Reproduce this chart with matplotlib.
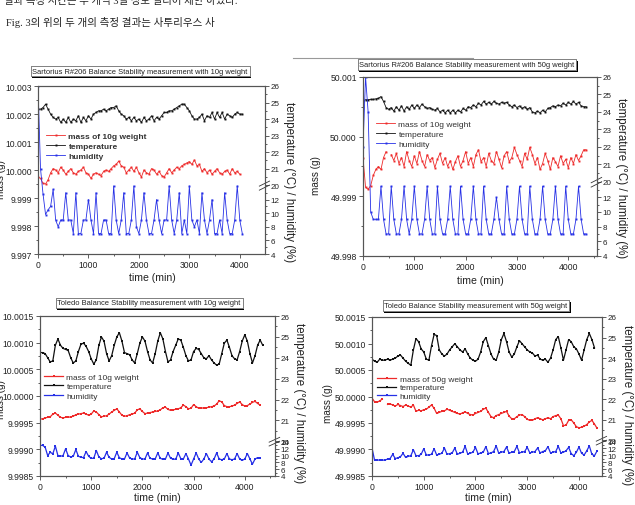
import numpy as np
import matplotlib
matplotlib.use('Agg')
import matplotlib.pyplot as plt
import matplotlib.patheffects as pe
from matplotlib.lines import Line2D

plt.rcParams['font.family'] = ['Liberation Sans', 'DejaVu Sans']

# sampling step of the read-off values (min)
STEP = 50
nan = np.nan

# Sartorius, 10 g
tl_mass = [9.99975, 9.99970, 9.99952, 9.99950, 9.99965, 9.99990, 10.00005, 10.00000, 9.99990, 10.00010,
           10.00000, 9.99985, 9.99995, 10.00005, 9.99990, 9.99985, 9.99995, 10.00000, 10.00010, 9.99990,
           9.99985, 9.99970, 9.99985, 9.99990, 9.99985, 9.99980, 9.99995, 10.00000, 9.99995, 10.00005,
           10.00015, 10.00020, 10.00032, 10.00015, 10.00010, 9.99990, 10.00000, 10.00010, 9.99995, 10.00010,
           9.99990, 9.99975, 10.00000, 9.99990, 9.99985, 10.00005, 10.00000, 9.99985, 9.99995, 9.99980,
           9.99975, 9.99990, 10.00005, 9.99990, 10.00000, 10.00010, 10.00005, 10.00015, 10.00020, 10.00025,
           10.00030, 10.00020, 10.00036, 10.00015, 10.00020, 9.99995, 10.00005, 9.99990, 10.00000, 9.99985,
           9.99995, 10.00005, 9.99990, 9.99985, 9.99995, 10.00000, 9.99985, 10.00005, 9.99990, 9.99995,
           9.99985]
tl_temp = [24.6, 24.6, 24.7, 24.9, 24.6, 24.3, 24.1, 24.0, 24.1, 23.8,
           24.0, 23.8, 24.1, 23.8, 24.0, 23.9, 24.2, 23.8, 24.1, 23.9,
           24.2, 24.0, 24.3, 24.4, 24.5, 24.5, 24.6, 24.5, 24.6, 24.7,
           24.7, 24.8, 24.5, 24.3, 24.2, 24.0, 24.1, 23.9, 24.1, 23.9,
           24.0, 23.8, 24.1, 23.9, 24.0, 24.2, 23.9, 24.1, 24.0, 24.2,
           24.4, 24.4, 24.5, 24.5, 24.6, 24.7, 24.8, 24.9, 24.9, 24.7,
           24.5, 24.2, 24.0, 24.0, 24.1, 24.3, 23.9, 24.2, 24.1, 24.4,
           24.0, 24.4, 24.1, 24.4, 24.0, 24.3, 24.2, 24.1, 24.3, 24.4,
           24.3, 24.3]
tl_hum = [30, 21, 12.8, 9.8, 10.5, 11, 13.5, 9, 8, 9,
          9, 13, 9, 9, 7, 13, 7, 7, 9, 9,
          12, 9, 7, 13, 7, 7, 9, 9, 7, 7,
          14, 9, 7, 9, 13, 7, 7, 9, 14, 8,
          7, 9, 13, 9, 7, 7, 9, 12, 9, 7,
          9, 9, 14, 9, 7, 9, 13, 7, 9, 7,
          14, 9, 8, 9, 7, 13, 9, 7, 9, 12,
          7, 7, 9, 7, 13, 9, 7, 7, 9, 14,
          9, 7]

# Sartorius, 50 g
tr_mass = [49.99965, 49.99915, 49.99912, 49.99918, 49.99935, 49.99945, 49.99950, 49.99945, 49.99965, 49.99975,
           nan, 49.99970, 49.99960, 49.99972, 49.99955, 49.99965, 49.99950, 49.99975, 49.99960, 49.99950,
           49.99968, 49.99955, 49.99975, 49.99960, 49.99950, 49.99970, 49.99960, 49.99965, 49.99948, 49.99962,
           49.99972, 49.99955, 49.99965, 49.99950, 49.99960, 49.99945, 49.99958, 49.99968, 49.99950, 49.99960,
           49.99975, 49.99955, 49.99965, 49.99950, 49.99970, 49.99978, 49.99958, 49.99965, 49.99950, 49.99972,
           49.99960, 49.99955, 49.99975, 49.99962, 49.99948, 49.99968, 49.99975, 49.99958, 49.99965, 49.99982,
           49.99970, 49.99960, 49.99950, 49.99972, 49.99962, 49.99982, 49.99970, 49.99955, 49.99965, 49.99945,
           49.99955, 49.99972, 49.99960, 49.99945, 49.99965, 49.99958, 49.99950, 49.99968, 49.99955, 49.99962,
           49.99948, 49.99965, 49.99955, 49.99970, 49.99960, 49.99968, 49.99978, 49.99978]
tr_temp = [24.65, 24.70, 24.70, 24.72, 24.72, 24.75, 24.78, 24.88, 24.60, 24.25,
           24.15, 24.25, 24.05, 24.30, 24.10, 24.35, 24.05, 24.30, 24.15, 24.40,
           24.20, 24.40, 24.25, 24.45, 24.30, 24.20, 24.25, 24.15, 24.10, 24.20,
           24.00, 24.10, 23.95, 24.10, 23.95, 24.10, 23.95, 24.10, 24.00, 24.20,
           24.10, 24.30, 24.25, 24.40, 24.30, 24.50, 24.40, 24.60, 24.45, 24.55,
           24.45, 24.60, 24.50, 24.45, 24.55, 24.50, 24.55, 24.40, 24.30, 24.40,
           24.25, 24.35, 24.20, 24.30, 24.15, 24.25, 24.00, 23.95, 24.05, 23.95,
           24.10, 24.00, 24.20, 24.25, 24.35, 24.30, 24.40, 24.35, 24.50, 24.40,
           24.55, 24.45, 24.60, 24.45, 24.55, 24.35, 24.30, 24.30]
tr_hum = [22, 27, 24, 10, 9, 9, 9, 13.5, 9, 7,
          7, 13.5, 9, 7, 7, 9, 13.5, 9, 7, 9,
          13.5, 9, 7, 7, 9, 13.5, 9, 7, 7, 13.5,
          9, 7, 7, 9, 13.5, 9, 7, 7, 13.5, 9,
          7, 7, 9, 13.5, 9, 7, 7, 13.5, 9, 7,
          7, 9, 12, 9, 7, 7, 13.5, 9, 7, 7,
          9, 13.5, 9, 7, 7, 13.5, 9, 7, 7, 9,
          13.5, 9, 7, 7, 9, 13.5, 9, 7, 7, 13.5,
          9, 7, 7, 9, 13.5, 9, 7, 7]

# Toledo, 10 g
bl_mass = [9.99957, 9.99957, 9.99959, 9.99960, 9.99961, 9.99966, 9.99968, 9.99964, 9.99960, 9.99959,
           9.99960, 9.99960, 9.99961, 9.99962, 9.99965, 9.99966, 9.99967, 9.99968, 9.99966, 9.99964,
           9.99966, 9.99972, 9.99970, 9.99965, 9.99961, 9.99962, 9.99963, 9.99966, 9.99970, 9.99973,
           9.99976, 9.99970, 9.99964, 9.99962, 9.99963, 9.99965, 9.99966, 9.99968, 9.99974, 9.99976,
           9.99971, 9.99967, 9.99968, 9.99969, 9.99970, 9.99971, 9.99972, 9.99974, 9.99978, 9.99979,
           9.99975, 9.99973, 9.99974, 9.99975, 9.99976, 9.99978, 9.99983, 9.99980, 9.99976, 9.99977,
           9.99984, 9.99980, 9.99977, 9.99977, 9.99978, 9.99978, 9.99979, 9.99980, 9.99981, 9.99985,
           9.99991, 9.99989, 9.99982, 9.99980, 9.99980, 9.99981, 9.99983, 9.99986, 9.99989, 9.99984,
           9.99981, 9.99982, 9.99985, 9.99988, 9.99990, 9.99986, 9.99983]
bl_temp = [24.25, 24.25, 24.20, 24.00, 23.80, 23.85, 24.60, 24.90, 24.60, 24.45,
           24.40, 24.35, 24.00, 23.75, 23.85, 24.30, 24.65, 24.70, 24.55, 24.30,
           23.95, 23.70, 23.90, 24.60, 25.00, 24.80, 24.20, 23.85, 24.10, 24.60,
           25.00, 25.20, 24.80, 24.25, 24.20, 24.15, 23.90, 23.75, 24.20, 24.70,
           25.00, 24.80, 24.30, 23.90, 23.75, 24.20, 24.80, 25.20, 24.90, 24.30,
           23.80, 23.90, 24.30, 24.60, 24.90, 24.85, 24.50, 24.10, 23.85, 23.90,
           24.30, 24.45, 24.40, 24.20, 24.00, 23.95, 24.10, 23.90, 23.75, 23.65,
           23.70, 24.20, 24.70, 24.85, 24.50, 24.10, 23.95, 23.90, 24.30, 24.80,
           25.10, 24.80, 24.20, 23.75, 24.10, 24.60, 24.85, 24.60]
bl_hum = [13.0, 13.0, 12.5, 10.0, 11.0, 10.5, 12.8, 10.0, 9.8, 10.0,
          12.0, 10.0, 9.6, 9.8, 11.8, 9.8, 9.5, 9.4, 11.2, 9.8,
          9.2, 9.2, 11.5, 9.6, 9.1, 9.2, 11.0, 9.5, 9.0, 9.1,
          11.0, 9.4, 9.0, 9.0, 10.8, 9.3, 9.0, 9.0, 11.0, 9.4,
          9.0, 9.0, 10.8, 9.2, 9.0, 9.0, 10.8, 9.2, 8.9, 9.0,
          10.8, 9.2, 9.0, 8.9, 10.8, 9.1, 9.0, 10.6, 9.0, 7.2,
          9.0, 10.8, 9.0, 8.0, 9.0, 10.6, 9.0, 8.2, 9.0, 10.8,
          9.0, 8.8, 9.0, 10.6, 9.0, 8.8, 9.0, 10.6, 9.0, 8.6,
          9.0, 10.6, 9.0, 7.5, 9.0, 9.4, 9.2]

# Toledo, 50 g
br_mass = [49.99997, 49.99990, 49.99989, 49.99992, 49.99995, nan, 49.99985, 49.99986, 49.99984, 49.99982,
           49.99985, 49.99983, 49.99981, 49.99984, 49.99982, 49.99980, 49.99984, 49.99972, 49.99974, 49.99973,
           49.99975, 49.99976, 49.99980, 49.99984, 49.99978, 49.99968, 49.99970, 49.99972, 49.99973, 49.99976,
           49.99974, 49.99972, 49.99970, 49.99968, 49.99967, 49.99969, 49.99971, 49.99968, 49.99966, 49.99965,
           49.99968, 49.99970, 49.99972, 49.99976, 49.99978, 49.99970, 49.99962, 49.99960, 49.99964, 49.99966,
           49.99968, 49.99970, 49.99972, 49.99963, 49.99958, 49.99958, 49.99962, 49.99965, 49.99966, 49.99962,
           49.99957, 49.99955, 49.99955, 49.99958, 49.99960, 49.99958, 49.99956, 49.99958, 49.99960, 49.99958,
           49.99962, 49.99964, 49.99965, 49.99958, 49.99945, 49.99946, 49.99955, 49.99956, 49.99950, 49.99943,
           49.99941, 49.99942, 49.99944, 49.99947, 49.99952, 49.99955, 49.99948, 49.99940]
br_temp = [23.95, 23.85, 23.80, 23.95, 23.90, 23.90, 23.95, 23.90, 23.95, 24.00,
           24.10, 24.15, 24.00, 23.85, 23.75, 23.65, 24.40, 24.95, 24.80, 24.45,
           24.30, 23.95, 23.90, 24.60, 25.15, 25.10, 24.40, 24.20, 24.10, 24.20,
           24.40, 24.55, 24.70, 24.55, 24.40, 24.30, 24.45, 24.20, 24.00, 23.90,
           23.85, 23.95, 24.30, 24.80, 25.00, 24.60, 24.20, 23.95, 23.90, 24.30,
           24.90, 25.20, 24.80, 24.30, 24.05, 24.20, 24.55, 24.85, 24.70, 24.55,
           24.40, 24.30, 24.25, 24.10, 24.15, 23.95, 23.90, 23.95, 23.80, 24.00,
           24.40, 24.90, 25.05, 24.50, 23.90, 24.40, 24.90, 24.80, 24.55, 24.45,
           24.20, 23.90, 24.40, 24.90, 25.20, 24.90, 24.50]
br_hum = [12.0, 8.5, 8.5, 8.6, 8.5, 8.6, 8.8, 9.0, 10.2, 9.0,
          9.2, 9.5, 10.5, 9.3, 9.6, 9.8, 11.5, 9.8, 9.8, 10.2,
          11.8, 10.0, 10.0, 10.2, 11.8, 10.0, 10.2, 10.5, 12.0, 10.2,
          10.4, 10.6, 12.0, 10.2, 10.5, 10.8, 12.5, 10.3, 10.5, 10.8,
          12.2, 10.3, 10.6, 10.8, 12.4, 10.4, 10.6, 11.0, 12.6, 10.5,
          10.8, 11.0, 12.3, 10.5, 10.8, 11.0, 12.5, 10.6, 10.8, 11.0,
          12.2, 10.6, 10.8, 11.0, 12.0, 10.6, 11.0, 11.2, 12.4, 10.6,
          10.8, 11.0, 12.5, 10.6, 10.8, 11.2, 12.2, 10.4, 9.8, 10.8,
          12.3, 10.5, 10.0, 11.2, 12.6, 10.2, 9.8, 11.2]

# axis ticks
time_ticks = [0, 1000, 2000, 3000, 4000]
tl_mass_ticks = [9.997, 9.998, 9.999, 10.000, 10.001, 10.002, 10.003]
tr_mass_ticks = [49.998, 49.999, 50.000, 50.001]
bl_mass_ticks = [9.9985, 9.9990, 9.9995, 10.0000, 10.0005, 10.0010, 10.0015]
br_mass_ticks = [49.9985, 49.9990, 49.9995, 50.0000, 50.0005, 50.0010, 50.0015]
temp_ticks = [20, 21, 22, 23, 24, 25, 26]
hum_ticks_top = [4, 6, 8, 10, 12]
hum_ticks_bottom = [4, 6, 8, 10, 12, 14]

W, H = 635, 506
fig = plt.figure(figsize=(W / 100, H / 100), dpi=100)


def rect(x0, y0, x1, y1):
    return [x0 / W, 1 - y1 / H, (x1 - x0) / W, (y1 - y0) / H]


def fx(x):
    return x / W


def fy(y):
    return 1 - y / H


def broken_scale(b):
    # humidity 4..14 sits under the break, temperature 20..26 above it
    src = [4, 14, 20, 26]
    dst = [0, b, b + 0.004, 1]
    return (lambda v: np.interp(v, src, dst), lambda v: np.interp(v, dst, src))


RED, BLACK, BLUE = '#ee2a2a', '#111111', '#2630e6'


def panel(box, xmax, mlim, mticks, mfmt, b, mass, temp, hum, labels, leg_xy, bold,
          hum_ticks, hum_fs, ms, lw, leg_gap):
    ax = fig.add_axes(rect(*box))
    ax2 = ax.twinx()
    t_m = np.arange(len(mass)) * STEP
    t_t = np.arange(len(temp)) * STEP
    t_h = np.arange(len(hum)) * STEP

    l1, = ax.plot(t_m, mass, color=RED, lw=lw, marker='s', ms=ms, mew=0)
    ax2.set_yscale('function', functions=broken_scale(b))
    l2, = ax2.plot(t_t, temp, color=BLACK, lw=lw, marker='s', ms=ms, mew=0)
    l3, = ax2.plot(t_h, hum, color=BLUE, lw=lw, marker='s', ms=ms, mew=0)

    ax.set_xlim(0, xmax)
    ax.set_ylim(*mlim)
    ax2.set_ylim(4, 26)
    ax.set_xticks(time_ticks)
    ax.set_xticks(np.arange(500, xmax, 1000), minor=True)
    ax.set_yticks(mticks)
    ax.set_yticklabels([mfmt % v for v in mticks])
    step = mticks[1] - mticks[0]
    ax.set_yticks(np.arange(mlim[0] + step / 2, mlim[1], step), minor=True)
    ax.set_ylim(*mlim)

    ax2.set_yticks(temp_ticks + hum_ticks)
    ax2.set_yticklabels([str(v) for v in temp_ticks + hum_ticks])
    for lab in ax2.get_yticklabels()[len(temp_ticks):]:
        lab.set_fontsize(hum_fs)
    ax2.set_yticks([20.5, 21.5, 22.5, 23.5, 24.5, 25.5, 5, 7, 9, 11, 13], minor=True)
    ax2.set_ylim(4, 26)

    for a in (ax, ax2):
        for s in a.spines.values():
            s.set_color('#555555')
            s.set_linewidth(0.8)
    ax.tick_params(which='both', direction='out', width=0.6, colors='#444444',
                   labelcolor='#222222', labelsize=6.2, pad=1.5)
    ax.tick_params(which='major', length=3)
    ax.tick_params(which='minor', length=1.6)
    ax2.tick_params(which='both', direction='out', width=0.6, colors='#444444',
                    labelcolor='#222222', labelsize=5.8, pad=1.2)
    ax2.tick_params(which='major', length=3)
    ax2.tick_params(which='minor', length=1.6)

    # break mark on the right axis
    yb = b + 0.002
    for dy in (-0.012, 0.012):
        ax2.plot([0.975, 1.02], [yb + dy - 0.015, yb + dy + 0.015], transform=ax2.transAxes,
                 color='#333333', lw=0.6, clip_on=False)

    leg = ax2.legend([l1, l2, l3], labels, loc='upper left',
                     bbox_to_anchor=(fx(leg_xy[0]), fy(leg_xy[1])), bbox_transform=fig.transFigure,
                     frameon=False, fontsize=6, handlelength=2.3, handletextpad=0.4,
                     labelspacing=leg_gap, borderpad=0, borderaxespad=0, markerscale=1.0)
    for txt in leg.get_texts():
        txt.set_color('#333333')
        if bold:
            txt.set_fontweight('bold')
    return ax, ax2


def title_box(x, y, s):
    t = fig.text(fx(x), fy(y), s, ha='center', va='center', fontsize=5.4, color='#222222',
                 bbox=dict(boxstyle='square,pad=0.25', fc='white', ec='#777777', lw=0.6))
    t.get_bbox_patch().set_path_effects([pe.withSimplePatchShadow(offset=(1.3, -1.3),
                                                                  shadow_rgbFace='black', alpha=1.0),
                                         pe.Normal()])


YLAB = 'temperature (\u00b0C) / humidity (%)'

panel((38, 87, 265, 255), 4500, (9.997, 10.003), tl_mass_ticks, '%.3f', 0.405,
      tl_mass, tl_temp, tl_hum, ['mass of 10g weight', 'temperature', 'humidity'],
      (46, 133), True, hum_ticks_top, 5.8, 1.4, 0.6, 0.25)
panel((363, 78, 597, 257), 4560, (49.998, 50.001), tr_mass_ticks, '%.3f', 0.41,
      tr_mass, tr_temp, tr_hum, ['mass of 10g weight', 'temperature', 'humidity'],
      (376, 121), False, hum_ticks_top, 5.8, 1.4, 0.6, 0.25)
panel((40, 317, 275, 477), 4590, (9.9985, 10.0015), bl_mass_ticks, '%.4f', 0.2125,
      bl_mass, bl_temp, bl_hum, ['mass of 10g weight', 'temperature', 'humidity'],
      (44, 374), False, hum_ticks_bottom, 3.6, 1.8, 0.9, 0.2)
panel((372, 318, 602, 477), 4445, (49.9985, 50.0015), br_mass_ticks, '%.4f', 0.22,
      br_mass, br_temp, br_hum, ['mass of 50g weight', 'temperature', 'humidity'],
      (377, 376), False, hum_ticks_bottom, 3.6, 1.8, 0.9, 0.1)

title_box(140, 72, 'Sartorius R#206 Balance Stability measurement with 10g weight')
title_box(467, 65.5, 'Sartorius R#206 Balance Stability measurement with 50g weight')
title_box(149, 304, 'Toledo Balance Stability measurement with 10g weight')
title_box(476, 306.5, 'Toledo Balance Stability measurement with 50g weight')

# axis titles
for x, y in [(152, 278), (480, 281), (157, 498), (488, 498)]:
    fig.text(fx(x), fy(y), 'time (min)', ha='center', va='center', fontsize=7.6, color='#222222')
for x, y in [(1, 180), (316, 176), (1, 400), (328, 404)]:
    fig.text(fx(x), fy(y), 'mass (g)', ha='center', va='center', rotation=90,
             fontsize=7.2, color='#222222')
for x, y in [(289, 182), (621, 178), (299, 403), (627, 405)]:
    fig.text(fx(x), fy(y), YLAB, ha='center', va='center', rotation=-90,
             fontsize=8.3, color='#222222')

# page text around the figure
kfont = ['Liberation Serif', 'Noto Sans CJK KR']
fig.text(fx(4), fy(1), '결과 측정 시간은 두 개씩 3일 정도 걸리어 제한 하였다.', ha='left', va='center',
         fontsize=7.5, family=kfont, color='#222222')
fig.text(fx(6), fy(22), 'Fig. 3의 위의 두 개의 측정 결과는 사투리우스 사', ha='left', va='center',
         fontsize=7.6, family=kfont, color='#222222')
fig.add_artist(Line2D([fx(293), fx(473)], [fy(59), fy(59)], color='#999999', lw=0.8))

fig.savefig('out.png', dpi=100)
